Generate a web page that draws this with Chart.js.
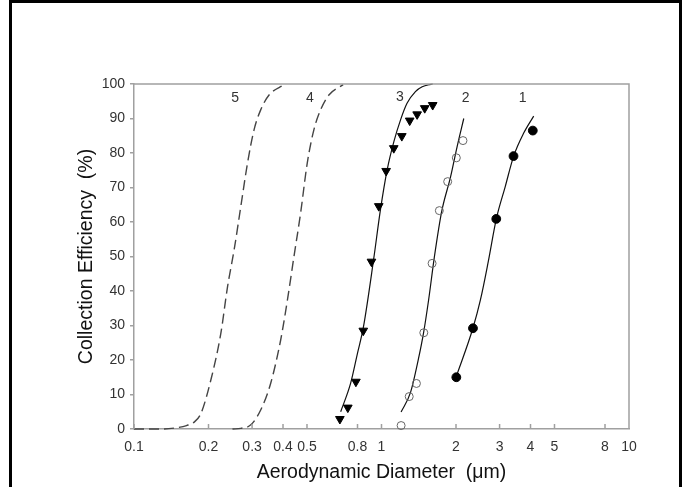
<!DOCTYPE html>
<html>
<head>
<meta charset="utf-8">
<title>Collection Efficiency</title>
<script src="https://cdn.jsdelivr.net/npm/chart.js@4/dist/chart.umd.min.js"></script>
<style>
    html, body { margin: 0; padding: 0; background: #fff; }
    #wrap { position: relative; width: 685px; height: 487px; overflow: hidden; }
    #frame { position: absolute; left: 9px; top: 0; width: 667px; height: 600px; border: 3px solid #000; pointer-events: none; }
</style>
</head>
<body>
<div id="wrap">
    <canvas id="chart" width="685" height="487"></canvas>
    <div id="frame"></div>
</div>
<script>
// Axis ticks
const xTickValues = [0.1, 0.2, 0.3, 0.4, 0.5, 0.8, 1, 2, 3, 4, 5, 8, 10];
const xTickLabels = ['0.1', '0.2', '0.3', '0.4', '0.5', '0.8', '1', '2', '3', '4', '5', '8', '10'];

// Measured points
const stage1X = [2.006, 2.342, 2.909, 3.415, 4.086];
const stage1Y = [15.0, 29.2, 60.9, 79.1, 86.5];
const stage2X = [1.2, 1.294, 1.384, 1.482, 1.601, 1.713, 1.851, 2.006, 2.134];
const stage2Y = [1.0, 9.4, 13.2, 27.9, 48.0, 63.3, 71.7, 78.6, 83.6];
const stage3X = [0.679, 0.731, 0.788, 0.844, 0.911, 0.975, 1.044, 1.121, 1.208, 1.300, 1.393, 1.495, 1.610];
const stage3Y = [2.9, 6.2, 13.7, 28.5, 48.5, 64.6, 74.8, 81.4, 84.9, 89.4, 91.2, 93.0, 93.9];

// Theoretical curves
const curve1X = [2.0, 2.34, 2.51, 2.7, 2.91, 3.16, 3.42, 3.75, 4.12];
const curve1Y = [15, 29.2, 37.4, 48.5, 60.9, 70.2, 79.1, 85.7, 90.7];
const curve2X = [1.2, 1.31, 1.41, 1.48, 1.55, 1.635, 1.75, 1.9, 2.02, 2.15];
const curve2Y = [4.9, 10.6, 20.3, 28, 37.4, 49.8, 63, 73, 81.8, 90];
const curve3X = [0.684, 0.75, 0.8, 0.845, 0.93, 0.99, 1.054, 1.122, 1.194, 1.268, 1.371, 1.46, 1.58, 1.61];
const curve3Y = [5, 13.2, 22, 29.5, 49.3, 63.5, 75.1, 83.3, 89.6, 94.4, 97.8, 99.2, 99.9, 100];
const curve4X = [0.25, 0.27, 0.2965, 0.325, 0.3565, 0.3914, 0.4168, 0.4427, 0.471, 0.501, 0.533, 0.5675, 0.613, 0.70];
const curve4Y = [0, 0.2, 1.2, 5.5, 13.2, 25.8, 37.4, 49.9, 62.5, 77, 86.7, 92.5, 96.8, 99.8];
const curve5X = [0.1, 0.13, 0.15, 0.163, 0.175, 0.1864, 0.2044, 0.2243, 0.2387, 0.2538, 0.27, 0.2874, 0.3055, 0.325, 0.3513, 0.4036];
const curve5Y = [0, 0, 0.4, 1, 2, 4.5, 14.2, 27.7, 41.2, 51.9, 64.4, 77, 86.7, 92.5, 96.8, 99.8];

// Curve numbers
const curveNames = ['1', '2', '3', '4', '5'];
const curveNameX = [3.72, 2.19, 1.187, 0.514, 0.256];
const curveNameY = [95.8, 95.8, 96.2, 95.8, 95.8];

const FONT = "'Liberation Sans', Arial, sans-serif";
const AXIS_COLOR = '#a0a0a0';

const zip = (xs, ys) => xs.map((x, i) => ({ x: x, y: ys[i] }));

function fitLine(xs, ys, dashed) {
    return {
        data: zip(xs, ys),
        showLine: true,
        pointRadius: 0,
        borderColor: dashed ? '#444' : '#111',
        borderWidth: dashed ? 1.4 : 1.2,
        borderDash: dashed ? [10, 5] : [],
        cubicInterpolationMode: 'monotone',
        clip: false,
        order: 2
    };
}

function markers(xs, ys, style, fill, stroke, radius, rotation) {
    return {
        data: zip(xs, ys),
        showLine: false,
        pointStyle: style,
        pointRotation: rotation || 0,
        pointRadius: radius,
        pointBackgroundColor: fill,
        pointBorderColor: stroke,
        pointBorderWidth: 1,
        clip: false,
        order: 1
    };
}

// Inward x ticks, top/right frame and curve numbers
const decorations = {
    id: 'decorations',
    afterDraw(chart) {
        const { ctx, chartArea: a, scales: { x, y } } = chart;
        ctx.save();
        ctx.strokeStyle = AXIS_COLOR;
        ctx.lineWidth = 1.5;
        ctx.beginPath();
        ctx.moveTo(a.left, a.top);
        ctx.lineTo(a.right, a.top);
        ctx.lineTo(a.right, a.bottom);
        xTickValues.forEach(v => {
            const px = x.getPixelForValue(v);
            ctx.moveTo(px, a.bottom);
            ctx.lineTo(px, a.bottom - 5);
        });
        ctx.stroke();

        ctx.fillStyle = '#333';
        ctx.font = '14px ' + FONT;
        ctx.textAlign = 'center';
        ctx.textBaseline = 'middle';
        curveNames.forEach((t, i) => {
            ctx.fillText(t, x.getPixelForValue(curveNameX[i]), y.getPixelForValue(curveNameY[i]));
        });
        ctx.restore();
    }
};

new Chart(document.getElementById('chart'), {
    type: 'scatter',
    data: {
        datasets: [
            fitLine(curve5X, curve5Y, true),
            fitLine(curve4X, curve4Y, true),
            fitLine(curve3X, curve3Y, false),
            fitLine(curve2X, curve2Y, false),
            fitLine(curve1X, curve1Y, false),
            markers(stage3X, stage3Y, 'triangle', '#000', '#000', 5, 180),
            markers(stage2X, stage2Y, 'circle', 'rgba(255,255,255,0)', '#666', 4),
            markers(stage1X, stage1Y, 'circle', '#000', '#000', 4.4)
        ]
    },
    options: {
        responsive: false,
        devicePixelRatio: 1,
        animation: false,
        layout: { padding: { left: 0, top: 84, right: 56, bottom: 0 } },
        plugins: {
            legend: { display: false },
            tooltip: { enabled: false }
        },
        scales: {
            x: {
                type: 'logarithmic',
                min: 0.1,
                max: 10,
                afterBuildTicks: (scale) => {
                    scale.ticks = xTickValues.map(v => ({ value: v }));
                },
                afterFit: (scale) => { scale.height = 58; },
                grid: { display: false, drawTicks: false },
                border: { display: true, color: AXIS_COLOR, width: 1.5 },
                ticks: {
                    padding: 10,
                    color: '#333',
                    font: { family: FONT, size: 14 },
                    autoSkip: false,
                    maxRotation: 0,
                    callback: (value, index) => xTickLabels[index]
                },
                title: {
                    display: true,
                    text: 'Aerodynamic Diameter  (μm)',
                    color: '#111',
                    font: { family: FONT, size: 19.5 },
                    padding: { top: 0, bottom: 2.5 }
                }
            },
            y: {
                min: 0,
                max: 100,
                afterFit: (scale) => { scale.width = 134; },
                grid: { drawOnChartArea: false, drawTicks: true, tickLength: 4, color: AXIS_COLOR, lineWidth: 1.5 },
                border: { display: true, color: AXIS_COLOR, width: 1.5 },
                ticks: {
                    stepSize: 10,
                    padding: 5,
                    color: '#333',
                    font: { family: FONT, size: 14 }
                },
                title: {
                    display: true,
                    text: 'Collection Efficiency  (%)',
                    color: '#111',
                    font: { family: FONT, size: 19.5 },
                    padding: { top: 75, bottom: 0 }
                }
            }
        }
    },
    plugins: [decorations]
});
</script>
</body>
</html>
